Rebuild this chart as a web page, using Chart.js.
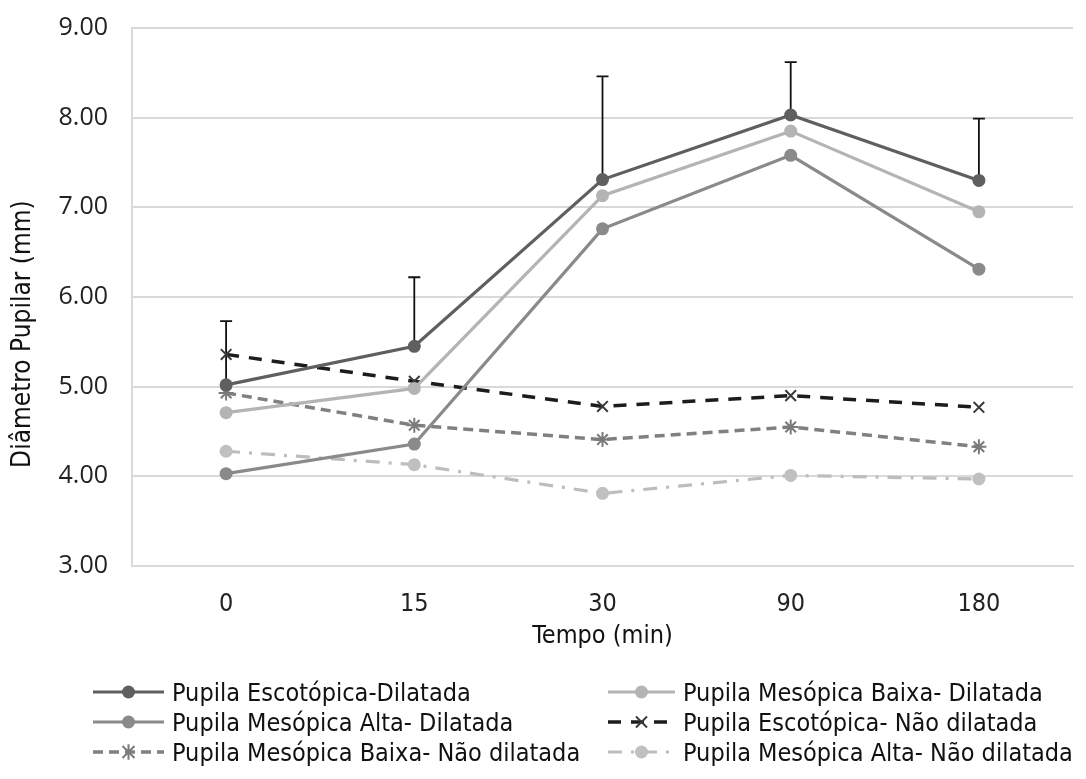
<!DOCTYPE html>
<html>
<head>
<meta charset="utf-8">
<script src="https://cdn.jsdelivr.net/npm/chart.js@4.4.1/dist/chart.umd.min.js"></script>
<style>
  html, body { margin: 0; padding: 0; background: #fff; }
  #wrap { position: relative; width: 1086px; height: 779px; }
  #legend { position: absolute; left: 0; top: 677px; width: 1086px; font-family: 'Liberation Sans Narrow', 'DejaVu Sans Condensed', 'Noto Sans', sans-serif; font-size: 25px; color: #111; }
  .item { position: absolute; height: 30px; display: flex; align-items: center; white-space: nowrap; }
  .item svg { flex: none; }
  .item span { margin-left: 8px; }
</style>
</head>
<body>
<div id="wrap">
  <canvas id="c" width="1086" height="779"></canvas>
  <div id="legend"></div>
</div>
<script>
const categories = ['0', '15', '30', '90', '180'];
const seriesNames = [
  'Pupila Escotópica-Dilatada',
  'Pupila Mesópica Baixa- Dilatada',
  'Pupila Mesópica Alta- Dilatada',
  'Pupila Escotópica- Não dilatada',
  'Pupila Mesópica Baixa- Não dilatada',
  'Pupila Mesópica Alta- Não dilatada'
];
const escotopicaDilatada = [5.02, 5.45, 7.31, 8.03, 7.30];
const escotopicaDilatadaErr = [0.71, 0.77, 1.15, 0.59, 0.69];
const mesBaixaDilatada = [4.71, 4.98, 7.13, 7.85, 6.95];
const mesAltaDilatada = [4.03, 4.36, 6.76, 7.58, 6.31];
const escotopicaNaoDil = [5.36, 5.06, 4.78, 4.90, 4.77];
const mesBaixaNaoDil = [4.93, 4.57, 4.41, 4.55, 4.33];
const mesAltaNaoDil = [4.28, 4.13, 3.81, 4.01, 3.97];
const yTicks = [3, 4, 5, 6, 7, 8, 9];

const styles = [
  { color: '#5f5f5f', marker: 'circle', dash: [], width: 3.2, mcolor: '#5f5f5f' },
  { color: '#b4b4b4', marker: 'circle', dash: [], width: 3.2, mcolor: '#b4b4b4' },
  { color: '#8a8a8a', marker: 'circle', dash: [], width: 3.2, mcolor: '#8a8a8a' },
  { color: '#1c1c1c', marker: 'crossRot', dash: [13, 10], width: 3.5, mcolor: '#3a3a3a' },
  { color: '#808080', marker: 'star', dash: [10, 6], width: 3.5, mcolor: '#7a7a7a' },
  { color: '#bdbdbd', marker: 'circle', dash: [14, 9, 3, 9], width: 3.2, mcolor: '#c0c0c0' }
];
const allSeries = [escotopicaDilatada, mesBaixaDilatada, mesAltaDilatada, escotopicaNaoDil, mesBaixaNaoDil, mesAltaNaoDil];

const datasets = allSeries.map((d, i) => {
  const s = styles[i];
  const isCircle = s.marker === 'circle';
  return {
    label: seriesNames[i],
    data: d,
    borderColor: s.color,
    backgroundColor: s.mcolor,
    borderWidth: s.width,
    borderDash: s.dash,
    pointStyle: s.marker,
    pointRadius: isCircle ? 6.5 : 7.5,
    pointBorderWidth: isCircle ? 0 : 2,
    pointBorderColor: s.mcolor,
    pointBackgroundColor: s.mcolor,
    tension: 0,
    fill: false,
    order: i
  };
});

const errorBars = {
  id: 'errorBars',
  beforeDatasetsDraw(chart) {
    const ctx = chart.ctx;
    const xs = chart.scales.x, ys = chart.scales.y;
    ctx.save();
    ctx.strokeStyle = '#111';
    ctx.lineWidth = 1.8;
    escotopicaDilatada.forEach((v, i) => {
      const x = xs.getPixelForValue(i);
      const y0 = ys.getPixelForValue(v);
      const y1 = ys.getPixelForValue(v + escotopicaDilatadaErr[i]);
      ctx.beginPath();
      ctx.moveTo(x, y0); ctx.lineTo(x, y1);
      ctx.moveTo(x - 6, y1); ctx.lineTo(x + 6, y1);
      ctx.stroke();
    });
    ctx.restore();
  }
};

const pad = '\u00A0'.repeat(10);

const chart = new Chart(document.getElementById('c'), {
  type: 'line',
  data: { labels: categories, datasets },
  plugins: [errorBars],
  options: {
    responsive: false,
    animation: false,
    layout: { autoPadding: false, padding: { top: 28, right: 13, bottom: 124, left: 0 } },
    plugins: { legend: { display: false }, tooltip: { enabled: false } },
    scales: {
      x: {
        offset: true,
        grid: { display: false, offset: true },
        border: { display: true, color: '#d9d9d9', width: 2 },
        ticks: { color: '#222', padding: 15, font: { family: "'DejaVu Sans Condensed', 'Liberation Sans', sans-serif", size: 25 } },
        title: { display: true, text: 'Tempo (min)', color: '#111', padding: { top: 0, bottom: 4 }, font: { family: "'Liberation Sans Narrow', 'DejaVu Sans Condensed', sans-serif", size: 25 } },
        afterFit(scale) { scale.height = 89; }
      },
      y: {
        min: 3, max: 9,
        afterBuildTicks(scale) { scale.ticks = yTicks.map(v => ({ value: v })); },
        grid: { color: '#d9d9d9', lineWidth: 2, drawTicks: false },
        border: { display: true, color: '#d9d9d9', width: 2 },
        ticks: { color: '#222', padding: 24, callback: v => Number(v).toFixed(2), font: { family: "'Open Sans', sans-serif", size: 25 } },
        title: { display: true, text: 'Diâmetro Pupilar (mm)' + pad, color: '#111', padding: { top: 8, bottom: 0 }, font: { family: "'Liberation Sans Narrow', 'DejaVu Sans Condensed', sans-serif", size: 26 } },
        afterFit(scale) { scale.width = 132; scale.paddingTop = 0; scale.paddingBottom = 0; }
      }
    }
  }
});

// HTML legend built from datasets
const legendPos = [
  { left: 93, top: 0 }, { left: 608, top: 0 },
  { left: 93, top: 30 }, { left: 608, top: 30 },
  { left: 93, top: 60 }, { left: 608, top: 60 }
];
const legend = document.getElementById('legend');
chart.data.datasets.forEach((ds, i) => {
  const s = styles[i];
  const w = (i % 2 === 0) ? 71 : 67, h = 30, cx = w / 2, cy = h / 2;
  let marker = '';
  if (s.marker === 'circle') {
    marker = `<circle cx="${cx}" cy="${cy}" r="6.5" fill="${s.mcolor}"/>`;
  } else if (s.marker === 'crossRot') {
    const r = 5.5;
    marker = `<path d="M${cx - r} ${cy - r} L${cx + r} ${cy + r} M${cx + r} ${cy - r} L${cx - r} ${cy + r}" stroke="${s.mcolor}" stroke-width="2"/>`;
  } else {
    const r = 6;
    marker = `<path d="M${cx - r} ${cy - r} L${cx + r} ${cy + r} M${cx + r} ${cy - r} L${cx - r} ${cy + r} M${cx} ${cy - r * 1.3} L${cx} ${cy + r * 1.3}" stroke="${s.mcolor}" stroke-width="2"/>`;
  }
  const dash = s.dash.length ? `stroke-dasharray="${s.dash.join(' ')}"` : '';
  const svg = `<svg width="${w}" height="${h}"><line x1="0" y1="${cy}" x2="${w}" y2="${cy}" stroke="${s.color}" stroke-width="${s.width}" ${dash}/>${marker}</svg>`;
  const div = document.createElement('div');
  div.className = 'item';
  div.style.left = legendPos[i].left + 'px';
  div.style.top = legendPos[i].top + 'px';
  div.innerHTML = svg + `<span>${ds.label}</span>`;
  legend.appendChild(div);
});
</script>
</body>
</html>
